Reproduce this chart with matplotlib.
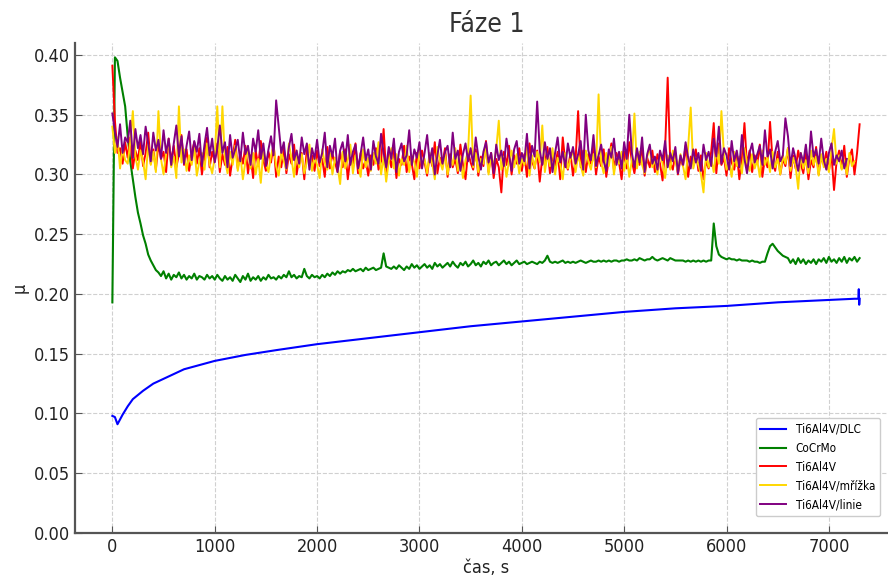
import numpy as np
import matplotlib
matplotlib.use("Agg")
import matplotlib.pyplot as plt

# time grid for the sampled series (s)
step = 25

# Ti6Al4V/DLC (smooth, sparse points)
dlc_t = [0, 25, 50, 75, 100, 150, 200, 300, 400, 500, 700, 1000, 1300, 1600,
         2000, 2500, 3000, 3500, 4000, 4500, 5000, 5500, 6000, 6500, 7000,
         7250, 7288, 7292, 7296, 7300]
dlc_mu = [0.098, 0.097, 0.091, 0.095, 0.099, 0.106, 0.112, 0.119, 0.125, 0.129,
          0.137, 0.144, 0.149, 0.153, 0.158, 0.163, 0.168, 0.173, 0.177, 0.181,
          0.185, 0.188, 0.190, 0.193, 0.195, 0.196, 0.196, 0.204, 0.191, 0.196]

# CoCrMo (thousandths)
cocrmo = [193, 398, 395, 381, 369, 357, 332, 311, 296, 281,
          268, 259, 249, 242, 233, 228, 224, 220, 218, 215,
          219, 213, 217, 212, 216, 214, 218, 213, 216, 212,
          215, 213, 217, 212, 215, 214, 212, 216, 213, 215,
          212, 216, 213, 211, 215, 212, 214, 211, 216, 213,
          210, 215, 212, 217, 211, 214, 212, 215, 211, 214,
          212, 216, 213, 214, 212, 215, 213, 216, 214, 219,
          214, 216, 213, 215, 214, 221, 215, 213, 216, 214,
          215, 213, 216, 214, 217, 215, 218, 216, 219, 217,
          219, 218, 220, 219, 221, 219, 220, 221, 219, 222,
          220, 221, 222, 220, 221, 222, 234, 223, 222, 221,
          223, 221, 224, 222, 220, 223, 221, 225, 222, 224,
          221, 223, 225, 222, 224, 221, 226, 223, 225, 222,
          224, 226, 223, 227, 224, 222, 226, 224, 227, 223,
          225, 228, 224, 226, 223, 227, 225, 228, 224, 226,
          227, 224, 226, 228, 225, 227, 224, 226, 228, 225,
          226, 227, 225, 226, 227, 226, 225, 227, 226, 228,
          232, 227, 226, 227, 226, 227, 228, 226, 227, 226,
          227, 226, 227, 228, 227, 226, 227, 228, 227, 227,
          228, 227, 228, 227, 228, 227, 228, 228, 227, 228,
          228, 229, 228, 228, 229, 228, 230, 229, 228, 229,
          229, 231, 229, 228, 229, 230, 229, 228, 230, 229,
          228, 228, 228, 228, 227, 228, 227, 228, 227, 228,
          227, 228, 227, 228, 228, 259, 240, 233, 231, 230,
          229, 230, 229, 229, 228, 229, 228, 228, 228, 227,
          228, 227, 227, 226, 227, 227, 234, 240, 242, 239,
          236, 234, 232, 231, 230, 226, 229, 225, 230, 226,
          229, 225, 228, 226, 229, 225, 229, 227, 230, 226,
          231, 227, 229, 226, 230, 227, 231, 226, 230, 228,
          231, 227, 230]

# Ti6Al4V (thousandths)
ti = [391, 345, 318, 322, 309, 327, 314, 331, 305, 320,
      312, 329, 307, 318, 335, 309, 321, 304, 326, 313,
      319, 302, 330, 311, 324, 306, 317, 333, 308, 321,
      303, 318, 327, 309, 322, 300, 315, 331, 306, 319,
      311, 326, 302, 317, 308, 323, 299, 314, 329, 305,
      318, 309, 324, 301, 316, 297, 320, 307, 328, 312,
      303, 319, 310, 326, 298, 315, 306, 322, 301, 317,
      309, 325, 300, 314, 318, 296, 321, 308, 316, 303,
      320, 307, 313, 298, 323, 305, 317, 310, 302, 319,
      306, 321, 296, 314, 309, 326, 301, 318, 305, 312,
      299, 316, 308, 322, 304, 311, 338, 300, 317, 306,
      321, 297, 313, 308, 324, 302, 315, 309, 296, 318,
      305, 320, 310, 299, 316, 307, 327, 301, 314, 309,
      322, 298, 317, 306, 313, 301, 325, 308, 296, 319,
      310, 304, 321, 299, 315, 307, 328, 302, 318, 297,
      313, 306, 285, 319, 308, 324, 300, 316, 309, 322,
      303, 317, 298, 326, 311, 305, 320, 294, 314, 308,
      323, 301, 316, 307, 319, 296, 331, 310, 304, 318,
      299, 312, 353, 306, 320, 302, 317, 309, 324, 300,
      315, 307, 321, 298, 313, 326, 304, 318, 310, 296,
      319, 305, 327, 311, 301, 316, 308, 323, 299, 314,
      306, 320, 302, 317, 309, 295, 322, 381, 310, 304,
      318, 300, 313, 307, 324, 298, 315, 309, 321, 303,
      316, 296, 311, 305, 319, 343, 301, 326, 308, 314,
      299, 322, 310, 304, 318, 296, 313, 343, 307, 320,
      302, 316, 309, 325, 298, 314, 306, 344, 311, 303,
      319, 300, 313, 307, 322, 297, 316, 305, 320, 309,
      301, 318, 296, 312, 306, 323, 300, 315, 308, 319,
      303, 317, 287, 311, 320, 305, 324, 298, 314, 321,
      300, 318, 342]

# Ti6Al4V/mřížka (thousandths)
grid_s = [340, 318, 331, 305, 322, 312, 309, 327, 353, 315,
          304, 320, 311, 296, 325, 308, 319, 302, 353, 313,
          300, 318, 327, 306, 315, 297, 357, 310, 321, 303,
          316, 308, 323, 299, 311, 318, 304, 326, 309, 301,
          314, 357, 306, 357, 312, 301, 319, 308, 324, 303,
          317, 296, 311, 322, 305, 318, 300, 313, 293, 320,
          309, 302, 316, 324, 307, 299, 319, 311, 304, 326,
          313, 298, 320, 306, 317, 301, 311, 325, 303, 315,
          308, 297, 321, 310, 304, 318, 300, 314, 307, 292,
          319, 305, 312, 325, 301, 316, 309, 298, 321, 306,
          314, 303, 318, 309, 327, 300, 315, 294, 311, 322,
          305, 317, 299, 313, 308, 324, 302, 316, 310, 298,
          320, 307, 313, 301, 318, 309, 296, 323, 311, 304,
          317, 300, 314, 308, 322, 303, 315, 297, 312, 319,
          366, 306, 318, 302, 313, 309, 324, 300, 316, 307,
          321, 345, 304, 315, 298, 311, 320, 306, 317, 301,
          313, 308, 324, 299, 316, 305, 319, 310, 341, 302,
          317, 307, 322, 300, 314, 309, 296, 318, 305, 313,
          321, 302, 316, 308, 299, 320, 311, 304, 317, 306,
          367, 310, 301, 318, 307, 323, 300, 314, 309, 319,
          303, 316, 298, 312, 351, 305, 319, 308, 301, 315,
          322, 306, 313, 300, 318, 309, 297, 316, 304, 320,
          311, 302, 317, 307, 296, 323, 356, 305, 314, 308,
          300, 285, 318, 306, 313, 302, 321, 309, 353, 316,
          304, 311, 298, 319, 307, 315, 301, 322, 310, 303,
          317, 305, 312, 298, 320, 308, 315, 302, 319, 306,
          313, 300, 316, 309, 322, 303, 314, 307, 288, 318,
          305, 312, 301, 320, 308, 315, 299, 317, 306, 313,
          302, 321, 338, 309, 316, 304, 312, 300, 318, 307,
          311]

# Ti6Al4V/linie (thousandths)
line_s = [351, 336, 323, 342, 318, 331, 327, 345, 314, 338,
          322, 333, 317, 340, 326, 311, 335, 320, 329, 313,
          337, 318, 330, 308, 326, 341, 315, 332, 309, 324,
          336, 312, 328, 319, 334, 307, 325, 339, 316, 330,
          310, 322, 341, 318, 327, 306, 333, 314, 321, 329,
          311, 335, 317, 324, 308, 330, 319, 337, 313, 326,
          307, 321, 332, 316, 362, 340, 318, 327, 305, 323,
          334, 312, 320, 309, 331, 317, 326, 304, 322, 313,
          329, 310, 318, 335, 306, 324, 315, 330, 302, 320,
          327, 311, 333, 308, 319, 325, 305, 317, 331, 312,
          321, 304, 328, 315, 309, 334, 318, 306, 323, 313,
          330, 302, 319, 326, 311, 316, 337, 308, 321, 314,
          327, 305, 318, 333, 310, 322, 300, 316, 329, 309,
          319, 324, 306, 335, 313, 320, 303, 317, 326, 311,
          322, 308, 331, 315, 304, 319, 327, 310, 318, 301,
          325, 312, 320, 307, 330, 316, 303, 321, 328, 309,
          318, 311, 334, 305, 324, 315, 361, 320, 308, 327,
          313, 322, 302, 318, 331, 310, 319, 306, 326, 314,
          323, 309, 317, 328, 304, 350, 320, 312, 333, 307,
          316, 325, 311, 303, 321, 314, 330, 308, 319, 305,
          327, 313, 350, 318, 306, 322, 310, 331, 302, 317,
          325, 309, 315, 304, 320, 312, 328, 306, 318, 311,
          323, 301, 316, 308, 327, 314, 305, 321, 310, 318,
          303, 325, 312, 319, 307, 330, 315, 340, 309, 322,
          316, 304, 328, 311, 320, 306, 333, 313, 301, 318,
          326, 310, 317, 324, 308, 337, 315, 321, 305, 319,
          328, 311, 316, 347, 332, 307, 322, 313, 303, 318,
          310, 325, 306, 336, 315, 321, 309, 330, 312, 304,
          318, 326, 308, 316, 311, 320, 305, 313]

labels = ["Ti6Al4V/DLC", "CoCrMo", "Ti6Al4V", "Ti6Al4V/mřížka", "Ti6Al4V/linie"]
colors = ["#0000ff", "#008000", "#ff0000", "#ffd700", "#800080"]

plt.rcParams["font.family"] = ["DejaVu Sans"]
plt.rcParams["font.stretch"] = "condensed"

fig = plt.figure(figsize=(8.88, 5.76), dpi=100)
ax = fig.add_axes([75 / 888, 43 / 576, 823 / 888, 490 / 576])


def t_of(vals):
    return np.arange(len(vals)) * step


ax.plot(dlc_t, dlc_mu, color=colors[0], lw=1.5, label=labels[0])
ax.plot(t_of(cocrmo), np.array(cocrmo) / 1000, color=colors[1], lw=1.5, label=labels[1])
ax.plot(t_of(ti), np.array(ti) / 1000, color=colors[2], lw=1.4, label=labels[2])
ax.plot(t_of(grid_s), np.array(grid_s) / 1000, color=colors[3], lw=1.4, label=labels[3])
ax.plot(t_of(line_s), np.array(line_s) / 1000, color=colors[4], lw=1.4, label=labels[4])

ax.set_xlim(-365, 7675)
ax.set_ylim(0, 0.41)
ax.set_xticks(range(0, 8000, 1000))
ax.set_yticks(np.arange(0, 0.401, 0.05))
ax.yaxis.set_major_formatter(matplotlib.ticker.FormatStrFormatter("%.2f"))

ax.grid(True, linestyle="--", color="#d0d0d0", linewidth=0.8)
for side in ["top", "right"]:
    ax.spines[side].set_visible(False)
for side in ["left", "bottom"]:
    ax.spines[side].set_color("#555555")
    ax.spines[side].set_linewidth(1.6)
ax.tick_params(direction="in", length=5, color="#555555", labelsize=13, labelcolor="#222222")

ax.set_title("Fáze 1", fontsize=19, color="#333333", pad=8)
ax.set_xlabel("čas, s", fontsize=13, color="#222222", labelpad=2)
ax.set_ylabel("μ", fontsize=13, color="#222222")

ax.legend(loc="lower right", bbox_to_anchor=(886 / 888, 54 / 576),
          bbox_transform=fig.transFigure, fontsize=8.5, handlelength=2.2,
          framealpha=1, edgecolor="#cccccc")

fig.savefig("out.png", dpi=100)
